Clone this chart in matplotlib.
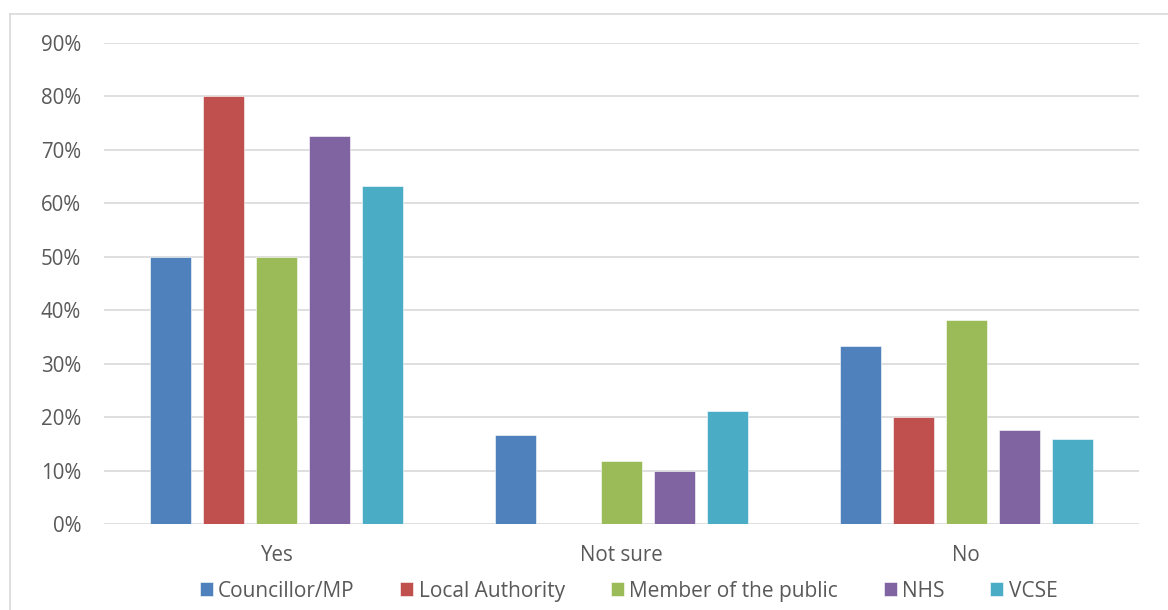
import numpy as np
import matplotlib
matplotlib.use("Agg")
from matplotlib import pyplot as plt
from matplotlib.lines import Line2D
from matplotlib.ticker import FuncFormatter, MultipleLocator

categories = ["Yes", "Not sure", "No"]
groups = ["Councillor/MP", "Local Authority", "Member of the public", "NHS", "VCSE"]
councillor = [50.0, 16.7, 33.3]
local_authority = [80.0, 0.0, 20.0]
public = [50.0, 11.8, 38.2]
nhs = [72.5, 10.0, 17.5]
vcse = [63.2, 21.1, 15.8]
colors = ["#4F81BD", "#C0504D", "#9BBB59", "#8064A2", "#4BACC6"]

plt.rcParams["font.family"] = ["Open Sans", "DejaVu Sans"]

fig = plt.figure(figsize=(11.68, 6.10), dpi=100)
ax = fig.add_axes([0.089, 0.141, 0.886, 0.789])

x = np.arange(len(categories))
pitch = 0.154
width = 0.119
series = [councillor, local_authority, public, nhs, vcse]
for i, (name, vals) in enumerate(zip(groups, series)):
    ax.bar(x + (i - 2) * pitch, vals, width, color=colors[i], label=name,
           edgecolor="white", linewidth=0.4, zorder=3)

ax.set_xlim(-0.5, 2.5)
ax.set_ylim(0, 90)
ax.yaxis.set_major_locator(MultipleLocator(10))
ax.yaxis.set_major_formatter(FuncFormatter(lambda v, p: "%d%%" % v))
ax.set_xticks(x)
ax.set_xticklabels(categories)
ax.tick_params(axis="both", length=0, labelsize=14.8, colors="#595959")
ax.tick_params(axis="x", pad=15)
ax.tick_params(axis="y", pad=16.5)
ax.grid(axis="y", color="#d9d9d9", linewidth=1.2, zorder=0)
for s in ax.spines.values():
    s.set_visible(False)

leg = fig.legend(loc="center", bbox_to_anchor=(0.538, 0.031), ncol=5, frameon=False,
                 fontsize=15, handlelength=0.63, handleheight=0.63,
                 handletextpad=0.25, columnspacing=2.2)
for t in leg.get_texts():
    t.set_color("#595959")

# outer frame
fig.add_artist(Line2D([10 / 1168, 1.0], [1 - 14 / 610, 1 - 14 / 610],
                      transform=fig.transFigure, color="#d9d9d9", linewidth=1.2))
fig.add_artist(Line2D([10 / 1168, 10 / 1168], [0.0, 1 - 14 / 610],
                      transform=fig.transFigure, color="#d9d9d9", linewidth=1.2))

fig.savefig("out.png", dpi=100)
